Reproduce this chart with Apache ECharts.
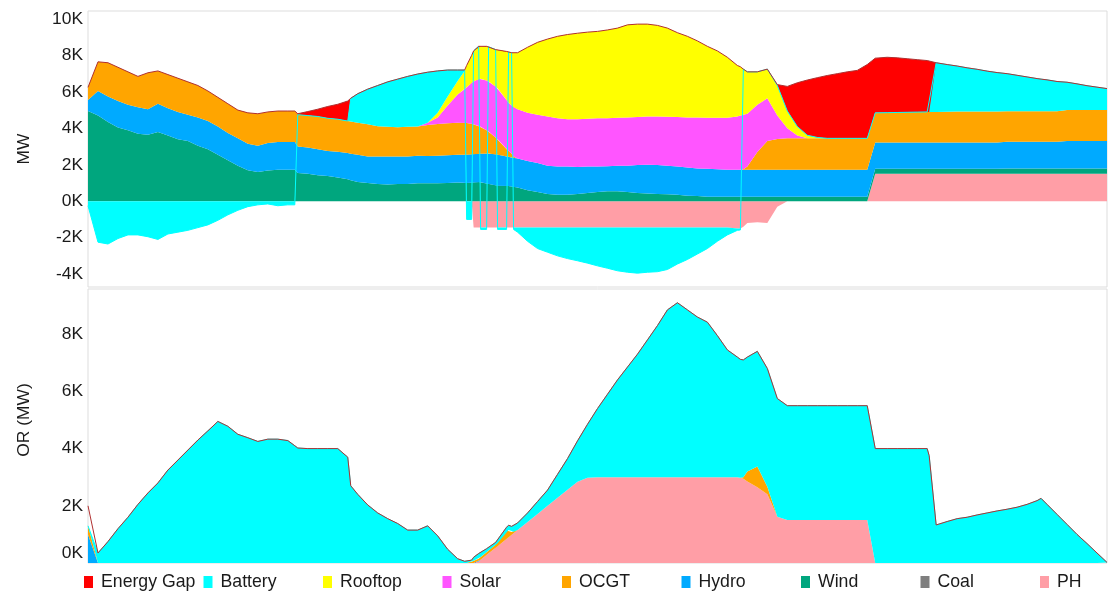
<!DOCTYPE html>
<html>
<head>
<meta charset="utf-8">
<script src="https://cdn.jsdelivr.net/npm/echarts@6.0.0/dist/echarts.min.js"></script>
<style>
  html, body { margin: 0; padding: 0; background: #ffffff; }
  #chart { width: 1109px; height: 594px; }
</style>
</head>
<body>
<div id="chart"></div>
<script>
// Sample times (hours from the start of the run); denser where the battery switches quickly
const hours = [
  0, 0.5, 1, 1.5, 2, 2.5, 3, 3.5, 4, 4.5,
  5, 5.5, 6, 6.5, 7, 7.5, 8, 8.5, 9, 9.5,
  10, 10.35, 10.5, 11, 11.5, 12, 12.5, 13, 13.15, 13.5,
  14, 14.5, 15, 15.5, 16, 16.5, 17, 17.5, 18, 18.5,
  18.85, 18.95, 19.2, 19.3, 19.55, 19.65, 19.95, 20.05, 20.4, 20.5,
  20.95, 21.05, 21.2, 21.3, 21.5, 22, 22.5, 23, 23.5, 24,
  24.5, 25, 25.5, 26, 26.5, 27, 27.5, 28, 28.5, 29,
  29.5, 30, 30.5, 31, 31.5, 32, 32.5, 32.65, 32.8, 33,
  33.5, 34, 34.5, 35, 35.5, 36, 36.5, 37, 37.5, 38,
  38.5, 39, 39.4, 40, 40.5, 41, 41.5, 42, 42.1, 42.45,
  43, 43.5, 44, 44.5, 45, 45.5, 46, 46.5, 47, 47.5,
  47.7, 48, 48.5, 49, 49.5, 50, 50.5, 51
];
const runStart = Date.UTC(2024, 0, 1, 0, 0);
const runHours = 51;

// ---- Generation / storage (MW) ----
const phMW = [
  0, 0, 0, 0, 0, 0, 0, 0, 0, 0,
  0, 0, 0, 0, 0, 0, 0, 0, 0, 0,
  0, 0, 0, 0, 0, 0, 0, 0, 0, 0,
  0, 0, 0, 0, 0, 0, 0, 0, 0, 0,
  0, 0, 0, -1450, -1450, -1450, -1450, -1450, -1450, -1450,
  -1450, -1450, -1450, -1450, -1450, -1450, -1450, -1450, -1450, -1450,
  -1450, -1450, -1450, -1450, -1450, -1450, -1450, -1450, -1450, -1450,
  -1450, -1450, -1450, -1450, -1450, -1450, -1500, -1500, -1400, -1200,
  -1150, -1200, -300, 0, 0, 0, 0, 0, 0, 0,
  0, 0, 1500, 1500, 1500, 1500, 1500, 1500, 1500, 1500,
  1500, 1500, 1500, 1500, 1500, 1500, 1500, 1500, 1500, 1500,
  1500, 1500, 1500, 1500, 1500, 1500, 1500, 1500
];
const coalMW = [
  0, 0, 0, 0, 0, 0, 0, 0, 0, 0,
  0, 0, 0, 0, 0, 0, 0, 0, 0, 0,
  0, 0, 0, 0, 0, 0, 0, 0, 0, 0,
  0, 0, 0, 0, 0, 0, 0, 0, 0, 0,
  0, 0, 0, 0, 0, 0, 0, 0, 0, 0,
  0, 0, 0, 0, 0, 0, 0, 0, 0, 0,
  0, 0, 0, 0, 0, 0, 0, 0, 0, 0,
  0, 0, 0, 0, 0, 0, 0, 0, 0, 0,
  0, 0, 0, 0, 0, 0, 0, 0, 0, 0,
  0, 0, 0, 0, 0, 0, 0, 0, 0, 0,
  0, 0, 0, 0, 0, 0, 0, 0, 0, 0,
  0, 0, 0, 0, 0, 0, 0, 0
];
const windMW = [
  4950, 4700, 4350, 4050, 3900, 3700, 3650, 3800, 3600, 3400,
  3300, 3050, 2850, 2550, 2250, 1950, 1700, 1600, 1680, 1720,
  1720, 1720, 1550, 1500, 1420, 1380, 1300, 1200, 1150, 1050,
  1000, 950, 920, 950, 950, 980, 980, 980, 1000, 1020,
  1000, 1000, 1020, 1030, 1050, 1040, 970, 950, 870, 850,
  850, 840, 800, 780, 750, 600, 500, 400, 350, 350,
  400, 450, 500, 550, 550, 500, 450, 420, 400, 380,
  350, 300, 280, 250, 250, 250, 250, 250, 250, 250,
  250, 250, 250, 250, 250, 250, 250, 250, 250, 250,
  250, 250, 280, 280, 280, 280, 280, 280, 280, 280,
  280, 280, 280, 280, 280, 280, 300, 300, 300, 300,
  300, 300, 300, 300, 300, 300, 300, 300
];
const hydroMW = [
  600, 1350, 1400, 1450, 1400, 1450, 1400, 1550, 1500, 1500,
  1450, 1550, 1550, 1550, 1500, 1500, 1450, 1450, 1520, 1530,
  1530, 1530, 1450, 1450, 1430, 1370, 1420, 1450, 1450, 1500,
  1450, 1500, 1530, 1500, 1500, 1520, 1500, 1520, 1520, 1530,
  1550, 1550, 1550, 1550, 1550, 1560, 1650, 1670, 1700, 1700,
  1610, 1600, 1600, 1600, 1600, 1600, 1600, 1550, 1550, 1550,
  1480, 1450, 1400, 1370, 1400, 1450, 1530, 1580, 1580, 1570,
  1550, 1550, 1520, 1530, 1500, 1470, 1470, 1470, 1470, 1470,
  1470, 1470, 1470, 1470, 1470, 1470, 1470, 1470, 1470, 1470,
  1470, 1470, 1440, 1440, 1440, 1440, 1440, 1440, 1440, 1440,
  1440, 1440, 1440, 1440, 1440, 1440, 1460, 1460, 1460, 1460,
  1460, 1460, 1460, 1500, 1500, 1500, 1500, 1500
];
const ocgtMW = [
  700, 1600, 1850, 1850, 1800, 1700, 2000, 1800, 1850, 1850,
  1800, 1750, 1650, 1600, 1600, 1550, 1700, 1750, 1700, 1700,
  1700, 1700, 1750, 1750, 1800, 1800, 1780, 1750, 1780, 1750,
  1770, 1670, 1630, 1610, 1630, 1600, 1700, 1740, 1760, 1750,
  1750, 1740, 1680, 1640, 1520, 1480, 1280, 1200, 930, 850,
  390, 310, 200, 70, 0, 0, 0, 0, 0, 0,
  0, 0, 0, 0, 0, 0, 0, 0, 0, 0,
  0, 0, 0, 0, 0, 0, 0, 0, 30, 180,
  980, 1580, 1700, 1730, 1730, 1730, 1730, 1730, 1730, 1730,
  1730, 1730, 1630, 1640, 1650, 1660, 1670, 1680, 1680, 1680,
  1690, 1700, 1700, 1700, 1700, 1700, 1680, 1680, 1680, 1680,
  1680, 1680, 1680, 1700, 1700, 1700, 1700, 1700
];
const solarMW = [
  0, 0, 0, 0, 0, 0, 0, 0, 0, 0,
  0, 0, 0, 0, 0, 0, 0, 0, 0, 0,
  0, 0, 0, 0, 0, 0, 0, 0, 0, 0,
  0, 0, 0, 0, 0, 0, 120, 360, 970, 1550,
  1850, 1960, 2250, 2360, 2600, 2640, 2720, 2760, 2800, 2800,
  2700, 2650, 2650, 2700, 2700, 2650, 2650, 2700, 2650, 2600,
  2620, 2620, 2650, 2630, 2630, 2650, 2640, 2650, 2670, 2680,
  2720, 2750, 2800, 2800, 2830, 2860, 2930, 2980, 3000, 2900,
  2600, 2350, 1280, 550, 150, 0, 0, 0, 0, 0,
  0, 0, 0, 0, 0, 0, 0, 0, 0, 0,
  0, 0, 0, 0, 0, 0, 0, 0, 0, 0,
  0, 0, 0, 0, 0, 0, 0, 0
];
const rooftopMW = [
  0, 0, 0, 0, 0, 0, 0, 0, 0, 0,
  0, 0, 0, 0, 0, 0, 0, 0, 0, 0,
  0, 0, 0, 0, 0, 0, 0, 0, 0, 0,
  0, 0, 0, 0, 0, 0, 0, 250, 500, 750,
  1000, 1200, 1500, 1670, 1780, 1780, 1880, 1900, 2020, 2100,
  2670, 2780, 2900, 3000, 3100, 3600, 3970, 4250, 4500, 4650,
  4720, 4760, 4770, 4850, 4920, 5080, 5100, 5070, 5000, 4870,
  4630, 4450, 4200, 3920, 3670, 3320, 2800, 2680, 2500, 2300,
  1800, 1600, 1650, 950, 500, 170, 50, 0, 0, 0,
  0, 0, 0, 0, 0, 0, 0, 0, 0, 0,
  0, 0, 0, 0, 0, 0, 0, 0, 0, 0,
  0, 0, 0, 0, 0, 0, 0, 0
];
const batteryMW = [
  -250, -2250, -2350, -2050, -1850, -1850, -1950, -2100, -1800, -1700,
  -1600, -1450, -1300, -1050, -750, -500, -300, -200, -150, -250,
  -200, -200, 0, 0, 0, 0, 0, 0, 1270, 1600,
  1930, 2230, 2470, 2640, 2770, 2880, 2780, 2300, 1450, 600,
  50, -1000, -1000, 0, 0, -100, -100, 0, 0, -100,
  -100, 0, 0, -100, -250, -750, -1150, -1350, -1550, -1700,
  -1820, -1950, -2100, -2230, -2370, -2450, -2500, -2450, -2420, -2300,
  -2000, -1750, -1450, -1150, -750, -400, -100, -80, 0, 0,
  0, 0, 0, 0, 0, 0, 0, 0, 0, 0,
  0, 0, 0, 0, 0, 0, 0, 0, 0, 2700,
  2590, 2500, 2400, 2320, 2220, 2140, 2060, 1970, 1880, 1790,
  1760, 1720, 1630, 1530, 1440, 1340, 1260, 1180
];
const gapMW = [
  0, 0, 0, 0, 0, 0, 0, 0, 0, 0,
  0, 0, 0, 0, 0, 0, 0, 0, 0, 0,
  0, 0, 50, 220, 400, 650, 820, 1100, 0, 0,
  0, 0, 0, 0, 0, 0, 0, 0, 0, 0,
  0, 0, 0, 0, 0, 0, 0, 0, 0, 0,
  0, 0, 0, 0, 0, 0, 0, 0, 0, 0,
  0, 0, 0, 0, 0, 0, 0, 0, 0, 0,
  0, 0, 0, 0, 0, 0, 0, 0, 0, 0,
  0, 0, 50, 1350, 2400, 3030, 3280, 3450, 3550, 3650,
  3730, 4050, 3000, 3040, 3000, 2940, 2880, 2820, 2800, 0,
  0, 0, 0, 0, 0, 0, 0, 0, 0, 0,
  0, 0, 0, 0, 0, 0, 0, 0
];

// ---- Operating reserve (MW) ----
const orPhMW = [
  0, 0, 0, 0, 0, 0, 0, 0, 0, 0,
  0, 0, 0, 0, 0, 0, 0, 0, 0, 0,
  0, 0, 0, 0, 0, 0, 0, 0, 0, 0,
  0, 0, 0, 0, 0, 0, 0, 0, 0, 0,
  0, 0, 0, 0, 50, 110, 280, 340, 530, 590,
  840, 900, 980, 1040, 1150, 1430, 1710, 2000, 2280, 2560,
  2840, 2980, 3000, 3000, 3000, 3000, 3000, 3000, 3000, 3000,
  3000, 3000, 3000, 3000, 3000, 3000, 3000, 2980, 2950, 2850,
  2650, 2400, 1620, 1500, 1500, 1500, 1500, 1500, 1500, 1500,
  1500, 1500, 0, 0, 0, 0, 0, 0, 0, 0,
  0, 0, 0, 0, 0, 0, 0, 0, 0, 0,
  0, 0, 0, 0, 0, 0, 0, 0
];
const orHydroMW = [
  1000, 0, 0, 0, 0, 0, 0, 0, 0, 0,
  0, 0, 0, 0, 0, 0, 0, 0, 0, 0,
  0, 0, 0, 0, 0, 0, 0, 0, 0, 0,
  0, 0, 0, 0, 0, 0, 0, 0, 0, 0,
  0, 0, 0, 0, 0, 0, 0, 0, 0, 0,
  0, 0, 0, 0, 0, 0, 0, 0, 0, 0,
  0, 0, 0, 0, 0, 0, 0, 0, 0, 0,
  0, 0, 0, 0, 0, 0, 0, 0, 0, 0,
  0, 0, 0, 0, 0, 0, 0, 0, 0, 0,
  0, 0, 0, 0, 0, 0, 0, 0, 0, 0,
  0, 0, 0, 0, 0, 0, 0, 0, 0, 0,
  0, 0, 0, 0, 0, 0, 0, 0
];
const orOcgtMW = [
  300, 0, 0, 0, 0, 0, 0, 0, 0, 0,
  0, 0, 0, 0, 0, 0, 0, 0, 0, 0,
  0, 0, 0, 0, 0, 0, 0, 0, 0, 0,
  0, 0, 0, 0, 0, 0, 0, 0, 0, 0,
  0, 0, 40, 80, 100, 100, 100, 100, 120, 100,
  300, 250, 100, 50, 0, 0, 0, 0, 0, 0,
  0, 0, 0, 0, 0, 0, 0, 0, 0, 0,
  0, 0, 0, 0, 0, 0, 0, 0, 50, 350,
  720, 270, 0, 0, 0, 0, 0, 0, 0, 0,
  0, 0, 0, 0, 0, 0, 0, 0, 0, 0,
  0, 0, 0, 0, 0, 0, 0, 0, 0, 0,
  0, 0, 0, 0, 0, 0, 0, 0
];
const orBatteryMW = [
  0, 350, 750, 1200, 1600, 2050, 2450, 2800, 3250, 3600,
  3950, 4300, 4620, 4950, 4780, 4500, 4380, 4250, 4330, 4330,
  4280, 4100, 4020, 4000, 4000, 4000, 4000, 3700, 2700, 2400,
  2030, 1750, 1550, 1380, 1150, 1150, 1300, 950, 480, 150,
  60, 40, 60, 120, 180, 170, 120, 110, 70, 60,
  110, 170, 200, 210, 250, 320, 440, 550, 820, 1090,
  1430, 1870, 2400, 2900, 3400, 3850, 4300, 4800, 5300, 5850,
  6100, 5850, 5600, 5420, 4950, 4450, 4200, 4140, 4100, 4000,
  4030, 4130, 4130, 4000, 4000, 4000, 4000, 4000, 4000, 4000,
  4000, 4000, 4000, 4000, 4000, 4000, 4000, 4000, 3750, 1330,
  1450, 1550, 1600, 1680, 1750, 1820, 1880, 1950, 2050, 2180,
  2260, 2050, 1700, 1350, 1000, 680, 350, 20
];
const orGapMW = [
  700, 0, 0, 0, 0, 0, 0, 0, 0, 0,
  0, 0, 0, 0, 0, 0, 0, 0, 0, 0,
  0, 0, 0, 0, 0, 0, 0, 0, 0, 0,
  0, 0, 0, 0, 0, 0, 0, 0, 0, 0,
  0, 0, 0, 0, 0, 0, 0, 0, 0, 0,
  0, 0, 0, 0, 0, 0, 0, 0, 0, 0,
  0, 0, 0, 0, 0, 0, 0, 0, 0, 0,
  0, 0, 0, 0, 0, 0, 0, 0, 0, 0,
  0, 0, 0, 0, 0, 0, 0, 0, 0, 0,
  0, 0, 0, 0, 0, 0, 0, 0, 0, 0,
  0, 0, 0, 0, 0, 0, 0, 0, 0, 0,
  0, 0, 0, 0, 0, 0, 0, 0
];

// Axis tick labels
const mwTicks = [-4000, -2000, 0, 2000, 4000, 6000, 8000, 10000];
const orTicks = [0, 2000, 4000, 6000, 8000];

const legendOrder = ['Energy Gap', 'Battery', 'Rooftop', 'Solar', 'OCGT', 'Hydro', 'Wind', 'Coal', 'PH'];
const colors = {
  'Energy Gap': '#ff0000',
  'Battery': '#00ffff',
  'Rooftop': '#ffff00',
  'Solar': '#ff55ff',
  'OCGT': '#ffa500',
  'Hydro': '#00aaff',
  'Wind': '#00a67e',
  'Coal': '#7f7f7f',
  'PH': '#ff9ea6'
};

const FONT = '"Liberation Sans", Arial, sans-serif';
const TEXT = '#1a1a1a';
const GAP_LINE = '#b03030';
const HOUR_MS = 3600 * 1000;

// Time-stamped points; a time x axis keeps the stack on the MW values
function pairs(values) {
  return hours.map((h, i) => [runStart + h * HOUR_MS, values[i]]);
}
function kLabel(v) {
  return (v / 1000) + 'K';
}

function areaSeries(name, values, axis, stack, extra) {
  return Object.assign({
    name: name,
    type: 'line',
    xAxisIndex: axis,
    yAxisIndex: axis,
    stack: stack,
    data: pairs(values),
    showSymbol: false,
    symbol: 'none',
    silent: true,
    animation: false,
    color: colors[name],
    lineStyle: { width: 0, color: colors[name] },
    areaStyle: { color: colors[name], opacity: 1 },
    emphasis: { disabled: true }
  }, extra || {});
}

// Top panel stack: pumped hydro at the bottom, energy gap on top
const topSeries = [
  areaSeries('PH', phMW, 0, 'mw'),
  areaSeries('Coal', coalMW, 0, 'mw'),
  areaSeries('Wind', windMW, 0, 'mw'),
  areaSeries('Hydro', hydroMW, 0, 'mw'),
  areaSeries('OCGT', ocgtMW, 0, 'mw'),
  areaSeries('Solar', solarMW, 0, 'mw'),
  areaSeries('Rooftop', rooftopMW, 0, 'mw'),
  areaSeries('Battery', batteryMW, 0, 'mw', { lineStyle: { width: 1, color: '#00ffff' } }),
  areaSeries('Energy Gap', gapMW, 0, 'mw', {
    stackStrategy: 'positive',
    lineStyle: { width: 1, color: GAP_LINE }
  })
];

// Bottom panel: operating reserve by source
const orSeries = [
  areaSeries('PH', orPhMW, 1, 'or'),
  areaSeries('Hydro', orHydroMW, 1, 'or'),
  areaSeries('OCGT', orOcgtMW, 1, 'or'),
  areaSeries('Battery', orBatteryMW, 1, 'or', { lineStyle: { width: 1, color: '#00ffff' } }),
  areaSeries('Energy Gap', orGapMW, 1, 'or', {
    stackStrategy: 'positive',
    areaStyle: { opacity: 0 },
    lineStyle: { width: 1, color: GAP_LINE }
  })
];

const legendLeft = [84, 203.5, 323, 442.5, 562, 681.5, 801, 920.5, 1040];
const legends = legendOrder.map((name, i) => ({
  data: [name],
  left: legendLeft[i],
  top: 573,
  padding: 0,
  icon: 'rect',
  itemWidth: 9,
  itemHeight: 12,
  selectedMode: false,
  textStyle: { fontSize: 17.7, color: TEXT, fontFamily: FONT, padding: [0, 0, 0, 3] }
}));

const labelStyle = { fontSize: 17.4, color: TEXT, fontFamily: FONT, margin: 5 };
const timeAxis = (grid) => ({
  gridIndex: grid, type: 'time',
  min: runStart, max: runStart + runHours * HOUR_MS, show: false
});

const option = {
  animation: false,
  backgroundColor: '#ffffff',
  textStyle: { fontFamily: FONT },
  legend: legends,
  grid: [
    { left: 88, top: 11, width: 1019, height: 276, show: true, borderColor: '#dddddd', borderWidth: 1 },
    { left: 88, top: 289, width: 1019, height: 274, show: true, borderColor: '#dddddd', borderWidth: 1 }
  ],
  xAxis: [timeAxis(0), timeAxis(1)],
  yAxis: [
    {
      gridIndex: 0, type: 'value', min: -4710, max: 10440,
      axisLine: { show: false }, axisTick: { show: false }, splitLine: { show: false },
      axisLabel: Object.assign({ customValues: mwTicks, formatter: kLabel }, labelStyle),
      name: 'MW', nameLocation: 'middle', nameGap: 55,
      nameTextStyle: { fontSize: 17.4, color: TEXT, fontFamily: FONT }
    },
    {
      gridIndex: 1, type: 'value', min: 0, max: 9580,
      axisLine: { show: false }, axisTick: { show: false }, splitLine: { show: false },
      axisLabel: Object.assign({
        customValues: orTicks,
        formatter: v => v === 0 ? '{base|' + kLabel(v) + '}' : kLabel(v),
        rich: { base: { fontSize: 17.4, color: TEXT, fontFamily: FONT, padding: [0, 0, 20, 0] } }
      }, labelStyle),
      name: 'OR (MW)', nameLocation: 'middle', nameGap: 55,
      nameTextStyle: { fontSize: 17.4, color: TEXT, fontFamily: FONT, padding: [0, 0, 0, 12] }
    }
  ],
  series: topSeries.concat(orSeries)
};

const chart = echarts.init(document.getElementById('chart'), null, { renderer: 'canvas' });
chart.setOption(option);
</script>
</body>
</html>
